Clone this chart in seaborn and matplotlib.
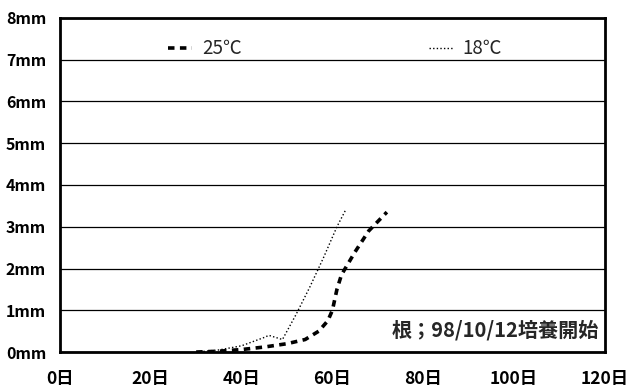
import matplotlib
matplotlib.use("Agg")
import matplotlib.pyplot as plt
import seaborn as sns
import pandas as pd

# Root growth (mm) by days since culture start
days_25 = [30, 35, 40, 45, 50, 54, 57, 59, 60, 61, 62, 65, 68, 72]
len_25 = [0.0, 0.02, 0.06, 0.12, 0.2, 0.3, 0.5, 0.75, 1.0, 1.5, 1.85, 2.4, 2.9, 3.35]
days_18 = [30, 35, 40, 45, 46, 49, 52, 55, 58, 61, 63]
len_18 = [0.0, 0.05, 0.15, 0.35, 0.4, 0.3, 0.9, 1.55, 2.25, 3.0, 3.42]

x_ticks = [0, 20, 40, 60, 80, 100, 120]
y_ticks = [0, 1, 2, 3, 4, 5, 6, 7, 8]
x_labels = [f"{d}日" for d in x_ticks]
y_labels = [f"{v}mm" for v in y_ticks]
note = "根；98/10/12培養開始"

df25 = pd.DataFrame({"day": days_25, "mm": len_25})
df18 = pd.DataFrame({"day": days_18, "mm": len_18})

sns.set_theme(style="white")
plt.rcParams["font.family"] = ["Noto Sans CJK JP", "DejaVu Sans"]

fig = plt.figure(figsize=(6.38, 3.89), dpi=100)
ax = fig.add_axes([0.094, 0.095, 0.854, 0.859])

sns.lineplot(data=df25, x="day", y="mm", ax=ax, color="black", lw=2.6,
             linestyle=(0, (1.8, 1.5)), label="25℃")
sns.lineplot(data=df18, x="day", y="mm", ax=ax, color="black", lw=1.0,
             linestyle=(0, (1, 1.6)), label="18℃")

ax.set_xlim(0, 120)
ax.set_ylim(0, 8)
ax.set_xticks(x_ticks)
ax.set_xticklabels(x_labels, fontsize=12.5, fontweight="bold")
ax.set_yticks(y_ticks)
ax.set_yticklabels(y_labels, fontsize=11.5, fontweight="bold")
ax.set_xlabel("")
ax.set_ylabel("")

ax.grid(axis="y", color="black", lw=0.9)
ax.grid(axis="x", visible=False)
for s in ax.spines.values():
    s.set_color("black")
    s.set_linewidth(2.0)

ax.tick_params(axis="x", direction="in", length=6, width=1.2, pad=13, colors="black")
ax.tick_params(axis="y", length=0, pad=10, colors="black")

leg = ax.legend(loc="upper center", ncol=2, frameon=False, fontsize=13.5,
                handlelength=1.3, handletextpad=0.5, columnspacing=10.0,
                bbox_to_anchor=(0.505, 0.99))

ax.text(0.99, 0.065, note, transform=ax.transAxes, ha="right", va="center",
        fontsize=14.5, fontweight="bold")

fig.savefig("out.png", dpi=100)
